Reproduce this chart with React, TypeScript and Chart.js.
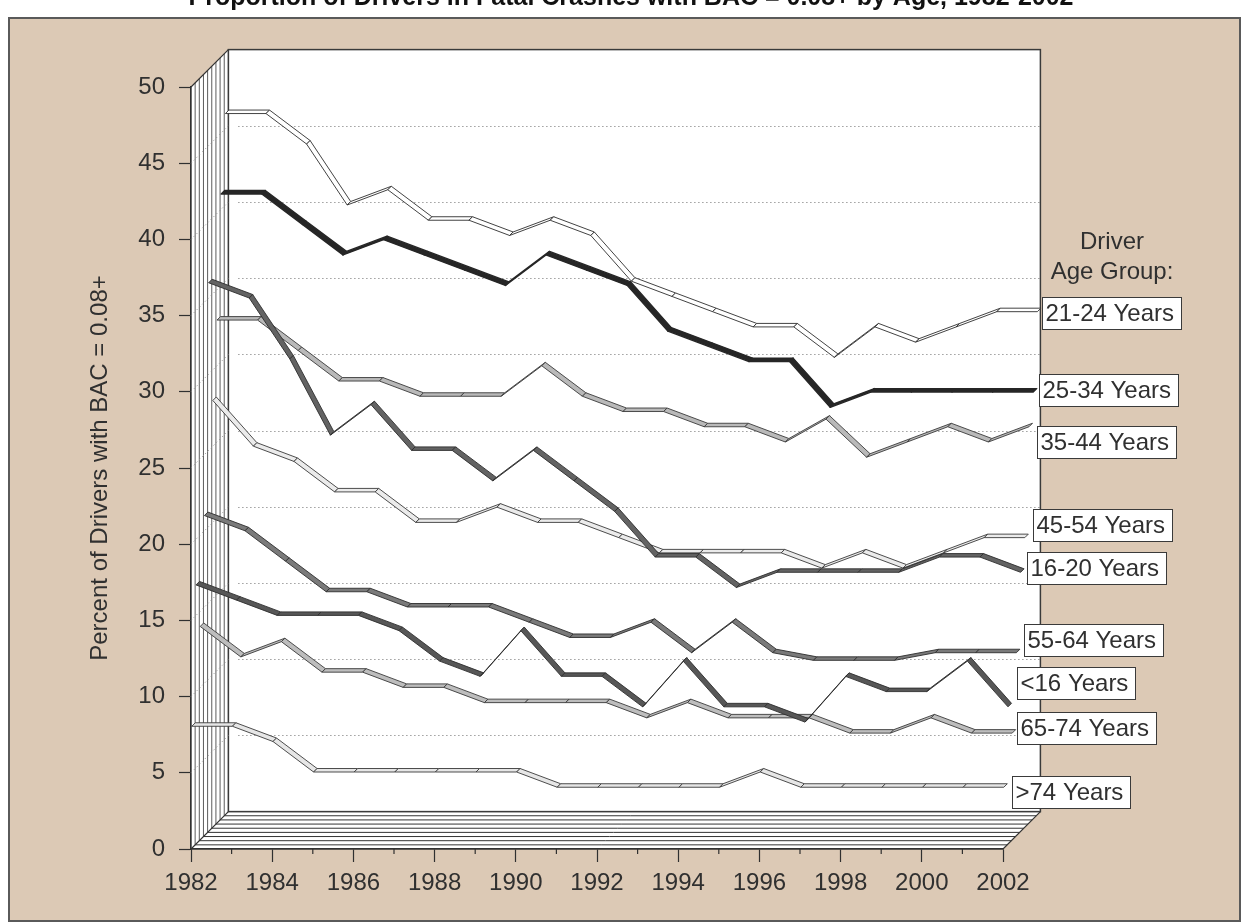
import React, { useEffect, useRef } from 'react';
import { Chart, registerables } from 'chart.js';

Chart.register(...registerables);

// ---------------- data ----------------
const years = [1982, 1983, 1984, 1985, 1986, 1987, 1988, 1989, 1990, 1991, 1992, 1993, 1994, 1995, 1996, 1997, 1998, 1999, 2000, 2001, 2002];

const age21to24 = [46, 46, 44, 40, 41, 39, 39, 38, 39, 38, 35, 34, 33, 32, 32, 30, 32, 31, 32, 33, 33];
const age25to34 = [41, 41, 39, 37, 38, 37, 36, 35, 37, 36, 35, 32, 31, 30, 30, 27, 28, 28, 28, 28, 28];
const age35to44 = [33, 33, 31, 29, 29, 28, 28, 28, 30, 28, 27, 27, 26, 26, 25, 26.5, 24, 25, 26, 25, 26];
const age45to54 = [28, 25, 24, 22, 22, 20, 20, 21, 20, 20, 19, 18, 18, 18, 18, 17, 18, 17, 18, 19, 19];
const age16to20 = [36, 35, 31, 26, 28, 25, 25, 23, 25, 23, 21, 18, 18, 16, 17, 17, 17, 17, 18, 18, 17];
const age55to64 = [21, 20, 18, 16, 16, 15, 15, 15, 14, 13, 13, 14, 12, 14, 12, 11.5, 11.5, 11.5, 12, 12, 12];
const ageUnder16 = [17, 16, 15, 15, 15, 14, 12, 11, 14, 11, 11, 9, 12, 9, 9, 8, 11, 10, 10, 12, 9];
const age65to74 = [14, 12, 13, 11, 11, 10, 10, 9, 9, 9, 9, 8, 9, 8, 8, 8, 7, 7, 8, 7, 7];
const ageOver74 = [8, 8, 7, 5, 5, 5, 5, 5, 5, 4, 4, 4, 4, 4, 5, 4, 4, 4, 4, 4, 4];

const yTickStep = 5;
const yMin = 0;
const yMax = 50;

const chartTitle = 'Proportion of Drivers in Fatal Crashes with BAC = 0.08+ by Age, 1982-2002';
const yAxisTitle = 'Percent of Drivers with BAC = 0.08+';
const legendTitle = ['Driver', 'Age Group:'];

// ---------------- styling / layout ----------------
const W = 1244;
const H = 924;
const FONT = '"Liberation Sans", Arial, Helvetica, sans-serif';
const FONT_SIZE = 24;
const TEXT = '#303030';
const TAN = '#dcc9b5';
const PLOT = { left: 191, right: 1003, top: 87, bottom: 849 };
const DEPTH = 37.4;
const SLICES = 9;
const RIBBON = 3.5;
const pxPerYear = (PLOT.right - PLOT.left) / (years[years.length - 1] - years[0]);
const pxPerUnit = (PLOT.bottom - PLOT.top) / (yMax - yMin);

type Series = {
  name: string;
  values: number[];
  fill: string;
  stroke: string;
  lw: number;
  depth: number; // 0 = front slice
  labelDx: number;
  labelDy: number;
};

const series: Series[] = [
  { name: '21-24 Years', values: age21to24, fill: '#ffffff', stroke: '#2e2e2e', lw: 0.9, depth: 8, labelDx: 5, labelDy: 1.3 },
  { name: '25-34 Years', values: age25to34, fill: '#262626', stroke: '#262626', lw: 1.4, depth: 7, labelDx: 6, labelDy: -2.4 },
  { name: '35-44 Years', values: age35to44, fill: '#b9b9b9', stroke: '#3a3a3a', lw: 0.9, depth: 6, labelDx: 7.7, labelDy: 15.7 },
  { name: '45-54 Years', values: age45to54, fill: '#ebebeb', stroke: '#3a3a3a', lw: 0.9, depth: 5, labelDx: 8.5, labelDy: -12.7 },
  { name: '16-20 Years', values: age16to20, fill: '#636363', stroke: '#2e2e2e', lw: 0.9, depth: 4, labelDx: 6.1, labelDy: -4.8 },
  { name: '55-64 Years', values: age55to64, fill: '#7a7a7a', stroke: '#2e2e2e', lw: 0.9, depth: 3, labelDx: 7.6, labelDy: -12.3 },
  { name: '<16 Years', values: ageUnder16, fill: '#575757', stroke: '#2e2e2e', lw: 0.9, depth: 1, labelDx: 8.7, labelDy: -23.9 },
  { name: '65-74 Years', values: age65to74, fill: '#bdbdbd', stroke: '#3a3a3a', lw: 0.9, depth: 2, labelDx: 5.1, labelDy: -5.6 },
  { name: '>74 Years', values: ageOver74, fill: '#e6e6e6', stroke: '#3a3a3a', lw: 0.9, depth: 0, labelDx: 7.9, labelDy: 4.8 },
];

const depthOffset = (d: number) => 0.8 + 4.2 * d;

// ---------------- plugins ----------------
const backgroundPlugin = {
  id: 'background3d',
  beforeDraw(chart: any) {
    const ctx = chart.ctx as CanvasRenderingContext2D;
    const { left: L, right: R, top: T, bottom: B } = chart.chartArea;
    const D = DEPTH;
    ctx.save();
    ctx.fillStyle = '#ffffff';
    ctx.fillRect(0, 0, W, H);
    // title (cut at the top edge)
    ctx.fillStyle = '#111111';
    ctx.font = `bold 25px ${FONT}`;
    ctx.textAlign = 'center';
    ctx.textBaseline = 'alphabetic';
    ctx.fillText(chartTitle, 631, 5);
    // panel
    ctx.fillStyle = TAN;
    ctx.fillRect(9, 18, 1231, 903);
    ctx.strokeStyle = '#5a5a5a';
    ctx.lineWidth = 2;
    ctx.strokeRect(9, 18, 1231, 903);

    // walls
    ctx.fillStyle = '#ffffff';
    ctx.fillRect(L + D, T - D, R - L, B - T);
    ctx.beginPath();
    ctx.moveTo(L, T); ctx.lineTo(L + D, T - D); ctx.lineTo(L + D, B - D); ctx.lineTo(L, B); ctx.closePath();
    ctx.fill();
    ctx.beginPath();
    ctx.moveTo(L, B); ctx.lineTo(R, B); ctx.lineTo(R + D, B - D); ctx.lineTo(L + D, B - D); ctx.closePath();
    ctx.fill();

    // side wall slices
    ctx.strokeStyle = '#5c5c5c';
    ctx.lineWidth = 1;
    for (let i = 0; i <= SLICES; i++) {
      const o = (i * D) / SLICES;
      ctx.beginPath();
      ctx.moveTo(L + o, T - o);
      ctx.lineTo(L + o, B - o);
      ctx.stroke();
    }
    // floor slices
    ctx.strokeStyle = '#333333';
    for (let i = 0; i <= SLICES; i++) {
      const o = (i * D) / SLICES;
      ctx.beginPath();
      ctx.moveTo(L + o, B - o);
      ctx.lineTo(R + o, B - o);
      ctx.stroke();
    }
    ctx.strokeStyle = '#333333';
    ctx.lineWidth = 1.2;
    ctx.beginPath();
    ctx.moveTo(L, T); ctx.lineTo(L + D, T - D);
    ctx.moveTo(L, B); ctx.lineTo(L + D, B - D);
    ctx.moveTo(R, B); ctx.lineTo(R + D, B - D);
    ctx.stroke();
    // back wall border
    ctx.strokeStyle = '#3a3a3a';
    ctx.lineWidth = 1.5;
    ctx.strokeRect(L + D, T - D, R - L, B - T);
    ctx.restore();
  },
  beforeDatasetsDraw(chart: any) {
    const ctx = chart.ctx as CanvasRenderingContext2D;
    const { left: L, right: R } = chart.chartArea;
    const D = DEPTH;
    const yScale = chart.scales.y;
    const xScale = chart.scales.x;
    ctx.save();
    // dotted gridlines on back wall and side wall
    for (let v = yMin + yTickStep; v < yMax; v += yTickStep) {
      const y = yScale.getPixelForValue(v);
      ctx.setLineDash([1, 3]);
      ctx.strokeStyle = '#6e6e6e';
      ctx.lineWidth = 1;
      ctx.beginPath();
      ctx.moveTo(L + D + 10, Math.round(y - D) + 0.5);
      ctx.lineTo(R + D, Math.round(y - D) + 0.5);
      ctx.stroke();
      ctx.strokeStyle = '#8a8a8a';
      ctx.beginPath();
      ctx.moveTo(L, y);
      ctx.lineTo(L + D, y - D);
      ctx.stroke();
    }
    ctx.setLineDash([]);
    // minor ticks for odd years
    ctx.strokeStyle = TEXT;
    ctx.lineWidth = 1.2;
    const b = chart.chartArea.bottom;
    for (const yr of years) {
      if (yr % 2 !== 0) {
        const x = xScale.getPixelForValue(yr);
        ctx.beginPath();
        ctx.moveTo(x, b);
        ctx.lineTo(x, b + 5);
        ctx.stroke();
      }
    }
    ctx.restore();
  },
  afterDatasetsDraw(chart: any) {
    const ctx = chart.ctx as CanvasRenderingContext2D;
    const r = RIBBON;
    const order = series.map((s, i) => ({ s, i })).sort((a, b) => b.s.depth - a.s.depth);
    ctx.save();
    ctx.lineJoin = 'round';
    for (const { s, i } of order) {
      const pts = chart.getDatasetMeta(i).data;
      ctx.fillStyle = s.fill;
      ctx.strokeStyle = s.stroke;
      ctx.lineWidth = s.lw;
      for (let k = 0; k < pts.length - 1; k++) {
        const p1 = pts[k];
        const p2 = pts[k + 1];
        ctx.beginPath();
        ctx.moveTo(p1.x, p1.y);
        ctx.lineTo(p2.x, p2.y);
        ctx.lineTo(p2.x + r, p2.y - r);
        ctx.lineTo(p1.x + r, p1.y - r);
        ctx.closePath();
        ctx.fill();
        ctx.stroke();
      }
    }
    ctx.restore();
  },
  afterDraw(chart: any) {
    const ctx = chart.ctx as CanvasRenderingContext2D;
    const { right: R } = chart.chartArea;
    ctx.save();
    ctx.font = `${FONT_SIZE}px ${FONT}`;
    ctx.fillStyle = TEXT;
    ctx.textAlign = 'center';
    ctx.textBaseline = 'middle';
    ctx.fillText(legendTitle[0], R + 109, 242);
    ctx.fillText(legendTitle[1], R + 109, 272);
    ctx.textAlign = 'left';
    series.forEach((s, i) => {
      const pts = chart.getDatasetMeta(i).data;
      const p = pts[pts.length - 1];
      const tw = ctx.measureText(s.name).width;
      const bx = Math.round(p.x + s.labelDx) + 0.5;
      const bh = 32;
      const by = Math.round(p.y + s.labelDy - bh / 2) + 0.5;
      const bw = Math.round(tw + 10);
      ctx.fillStyle = '#ffffff';
      ctx.fillRect(bx, by, bw, bh);
      ctx.strokeStyle = '#3a3a3a';
      ctx.lineWidth = 1;
      ctx.strokeRect(bx, by, bw, bh);
      ctx.fillStyle = TEXT;
      ctx.fillText(s.name, bx + 3, by + bh / 2 + 1);
    });
    ctx.restore();
  },
};

function buildConfig(): any {
  const scales: any = {
    x: {
      type: 'linear',
      position: 'bottom',
      min: years[0],
      max: years[years.length - 1],
      bounds: 'data',
      afterFit: (s: any) => { s.height = H - PLOT.bottom; },
      grid: {
        drawOnChartArea: false,
        drawTicks: true,
        tickLength: 13,
        tickWidth: 1.2,
        tickColor: (c: any) => (c.tick && c.tick.value % 2 !== 0 ? 'rgba(0,0,0,0)' : TEXT),
      },
      border: { display: true, color: TEXT, width: 1.5 },
      ticks: {
        stepSize: 1,
        autoSkip: false,
        maxRotation: 0,
        padding: 7,
        color: TEXT,
        font: { family: FONT, size: FONT_SIZE },
        callback: (v: any) => (Number(v) % 2 === 0 ? String(v) : ''),
      },
    },
    y: {
      type: 'linear',
      position: 'left',
      min: yMin,
      max: yMax,
      bounds: 'data',
      afterFit: (s: any) => { s.width = PLOT.left; },
      grid: { drawOnChartArea: false, drawTicks: true, tickLength: 12, tickWidth: 1.2, tickColor: TEXT },
      border: { display: true, color: TEXT, width: 1.5 },
      ticks: { stepSize: yTickStep, padding: 14, color: TEXT, font: { family: FONT, size: FONT_SIZE } },
      title: {
        display: true,
        text: yAxisTitle,
        color: TEXT,
        font: { family: FONT, size: FONT_SIZE },
        padding: { top: 86, bottom: 0 },
      },
    },
  };
  const datasets = series.map((s, i) => {
    const off = depthOffset(s.depth);
    scales['x' + i] = {
      type: 'linear', display: false, bounds: 'data', position: 'bottom',
      min: years[0] - off / pxPerYear,
      max: years[years.length - 1] - off / pxPerYear,
    };
    scales['y' + i] = {
      type: 'linear', display: false, bounds: 'data', position: 'left',
      min: yMin - off / pxPerUnit,
      max: yMax - off / pxPerUnit,
    };
    return {
      label: s.name,
      data: years.map((yr, k) => ({ x: yr, y: s.values[k] })),
      xAxisID: 'x' + i,
      yAxisID: 'y' + i,
      showLine: false,
      pointRadius: 0,
      borderWidth: 0,
      backgroundColor: s.fill,
      borderColor: s.stroke,
    };
  });
  return {
    type: 'line',
    data: { datasets },
    options: {
      responsive: false,
      animation: false,
      devicePixelRatio: 1,
      layout: { padding: { left: 0, right: W - PLOT.right, top: PLOT.top, bottom: 0 } },
      plugins: { legend: { display: false }, tooltip: { enabled: false }, title: { display: false } },
      scales,
    },
    plugins: [backgroundPlugin],
  };
}

export default function App() {
  const ref = useRef<HTMLCanvasElement | null>(null);
  useEffect(() => {
    if (!ref.current) return;
    const chart = new Chart(ref.current, buildConfig());
    return () => chart.destroy();
  }, []);
  return (
    <div style={{ position: 'fixed', left: 0, top: 0, width: W, height: H }}>
      <canvas ref={ref} width={W} height={H} style={{ display: 'block', width: W, height: H }} />
    </div>
  );
}
